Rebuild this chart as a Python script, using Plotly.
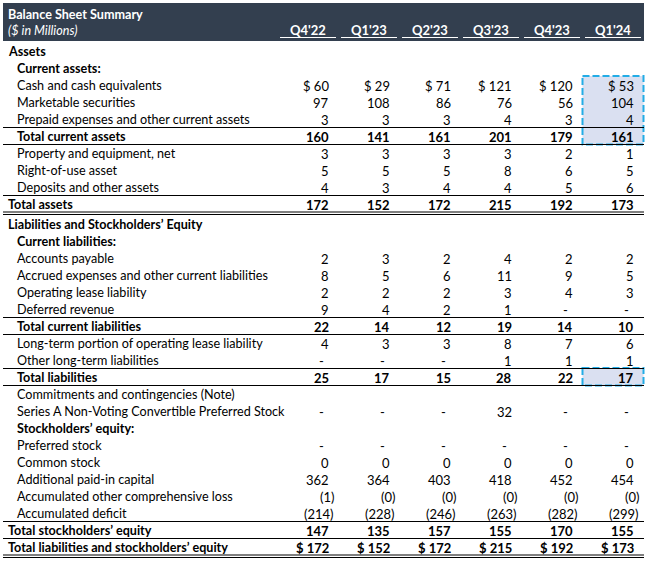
import math
import plotly.graph_objects as go

# ---- data ----
quarters = ["Q4'22", "Q1'23", "Q2'23", "Q3'23", "Q4'23", "Q1'24"]

cash = [60, 29, 71, 121, 120, 53]
marketable = [97, 108, 86, 76, 56, 104]
prepaid = [3, 3, 3, 4, 3, 4]
total_current_assets = [160, 141, 161, 201, 179, 161]
property_equipment = [3, 3, 3, 3, 2, 1]
rou_asset = [5, 5, 5, 8, 6, 5]
deposits = [4, 3, 4, 4, 5, 6]
total_assets = [172, 152, 172, 215, 192, 173]

accounts_payable = [2, 3, 2, 4, 2, 2]
accrued = [8, 5, 6, 11, 9, 5]
op_lease = [2, 2, 2, 3, 4, 3]
deferred_rev = [9, 4, 2, 1, None, None]
total_current_liab = [22, 14, 12, 19, 14, 10]
lt_op_lease = [4, 3, 3, 8, 7, 6]
other_lt_liab = [None, None, None, 1, 1, 1]
total_liab = [25, 17, 15, 28, 22, 17]

series_a = [None, None, None, 32, None, None]
preferred = [None, None, None, None, None, None]
common = [0, 0, 0, 0, 0, 0]
apic = [362, 364, 403, 418, 452, 454]
aocl = [-1, -0.0, -0.0, -0.0, -0.0, -0.0]
acc_deficit = [-214, -228, -246, -263, -282, -299]
total_se = [147, 135, 157, 155, 170, 155]
total_l_se = [172, 152, 172, 215, 192, 173]

# label, indent, bold, values, dollar sign, line above, line below
rows = [
    ("Assets", 0, True, None, False, False, None),
    ("Current assets:", 1, True, None, False, False, None),
    ("Cash and cash equivalents", 1, False, cash, True, False, None),
    ("Marketable securities", 1, False, marketable, False, False, None),
    ("Prepaid expenses and other current assets", 1, False, prepaid, False, False, None),
    ("Total current assets", 1, True, total_current_assets, False, True, "single"),
    ("Property and equipment, net", 1, False, property_equipment, False, False, None),
    ("Right-of-use asset", 1, False, rou_asset, False, False, None),
    ("Deposits and other assets", 1, False, deposits, False, False, None),
    ("Total assets", 0, True, total_assets, False, True, "double"),
    ("Liabilities and Stockholders’ Equity", 0, True, None, False, False, None),
    ("Current liabilities:", 1, True, None, False, False, None),
    ("Accounts payable", 1, False, accounts_payable, False, False, None),
    ("Accrued expenses and other current liabilities", 1, False, accrued, False, False, None),
    ("Operating lease liability", 1, False, op_lease, False, False, None),
    ("Deferred revenue", 1, False, deferred_rev, False, False, None),
    ("Total current liabilities", 1, True, total_current_liab, False, True, "single"),
    ("Long-term portion of operating lease liability", 1, False, lt_op_lease, False, False, None),
    ("Other long-term liabilities", 1, False, other_lt_liab, False, False, None),
    ("Total liabilities", 1, True, total_liab, False, True, "single"),
    ("Commitments and contingencies (Note)", 1, False, None, False, False, None),
    ("Series A Non-Voting Convertible Preferred Stock", 1, False, series_a, False, False, None),
    ("Stockholders’ equity:", 1, True, None, False, False, None),
    ("Preferred stock", 1, False, preferred, False, False, None),
    ("Common stock", 1, False, common, False, False, None),
    ("Additional paid-in capital", 1, False, apic, False, False, None),
    ("Accumulated other comprehensive loss", 1, False, aocl, False, False, None),
    ("Accumulated deficit", 1, False, acc_deficit, False, False, None),
    ("Total stockholders’ equity", 0, True, total_se, False, True, "single"),
    ("Total liabilities and stockholders’ equity", 0, True, total_l_se, True, False, "double"),
]

# ---- layout ----
W, H = 648, 564
FONT = "Lato"
FS = 13       # numbers
FS_LBL = 12.6  # row labels
LEFT, RIGHT = 3, 644
ROW_H = 17
TOP = 42.5
col_right = [331 + 61 * j for j in range(len(quarters))]
col_center = [308 + 61 * j for j in range(len(quarters))]

fig = go.Figure()
shapes = []
ann = []


def row_top(i):
    return TOP + ROW_H * i + (3 if i >= 10 else 0)


def hline(y, width=1):
    shapes.append(dict(type="line", x0=LEFT, x1=RIGHT, y0=y, y1=y,
                       line=dict(color="black", width=width)))


# header band
shapes.append(dict(type="rect", x0=LEFT, x1=RIGHT, y0=3, y1=41,
                   fillcolor="#333F4F", line=dict(width=0), layer="below"))
ann.append(dict(x=6, y=14, text="<b>Balance Sheet Summary</b>", xanchor="left",
                font=dict(color="white", size=FS_LBL)))
ann.append(dict(x=6, y=30.5, text="<i>($ in Millions)</i>", xanchor="left",
                font=dict(color="white", size=FS_LBL)))
for j, q in enumerate(quarters):
    ann.append(dict(x=col_center[j], y=30, text="<b>%s</b>" % q, xanchor="center",
                    font=dict(color="white", size=FS)))
    shapes.append(dict(type="line", x0=col_center[j] - 28, x1=col_center[j] + 28,
                       y0=37.5, y1=37.5, line=dict(color="white", width=1.2)))

# highlight boxes
for r0, r1 in [(2, 5), (19, 19)]:
    shapes.append(dict(type="rect", x0=582.5, x1=643.5, y0=row_top(r0) - 0.5,
                       y1=row_top(r1) + ROW_H, fillcolor="#DAE0F1",
                       line=dict(color="#22ACE6", width=2, dash="7px,3px"), layer="below"))


def fmt(v, dollar, bold):
    if v is None:
        s, shift = "-", -5
    elif v < 0 or math.copysign(1, v) < 0:
        s, shift = "(%d)" % abs(v), 5
    else:
        s, shift = "%d" % v, 0
    if dollar and v is not None:
        s = "$ " + s
    if bold:
        s = "<b>%s</b>" % s
    return s, shift


for i, (label, indent, bold, vals, dollar, above, below) in enumerate(rows):
    top = row_top(i)
    yc = top + ROW_H / 2 + 0.5
    txt = "<b>%s</b>" % label if bold else label
    ann.append(dict(x=6 if indent == 0 else 15, y=yc, text=txt, xanchor="left",
                    font=dict(color="black", size=FS_LBL)))
    if vals is not None:
        for j, v in enumerate(vals):
            s, shift = fmt(v, dollar, bold)
            ann.append(dict(x=col_right[j] + shift, y=yc, text=s, xanchor="right",
                            font=dict(color="black", size=FS)))
    if above:
        hline(top)
    if below == "single":
        hline(top + ROW_H)
    elif below == "double":
        hline(top + ROW_H - 0.5, 1)
        hline(top + ROW_H + 2, 1)

for a in ann:
    a.update(xref="x", yref="y", yanchor="middle", showarrow=False)

fig.update_layout(
    width=W, height=H,
    margin=dict(l=0, r=0, t=0, b=0),
    paper_bgcolor="white", plot_bgcolor="white",
    font=dict(family=FONT, size=FS, color="black"),
    xaxis=dict(range=[0, W], visible=False, fixedrange=True),
    yaxis=dict(range=[H, 0], visible=False, fixedrange=True),
    shapes=shapes, annotations=ann, showlegend=False,
)

fig.write_html("out.html", config={"displayModeBar": False},
               post_script="document.body.style.margin='0';document.body.style.overflow='hidden';")
